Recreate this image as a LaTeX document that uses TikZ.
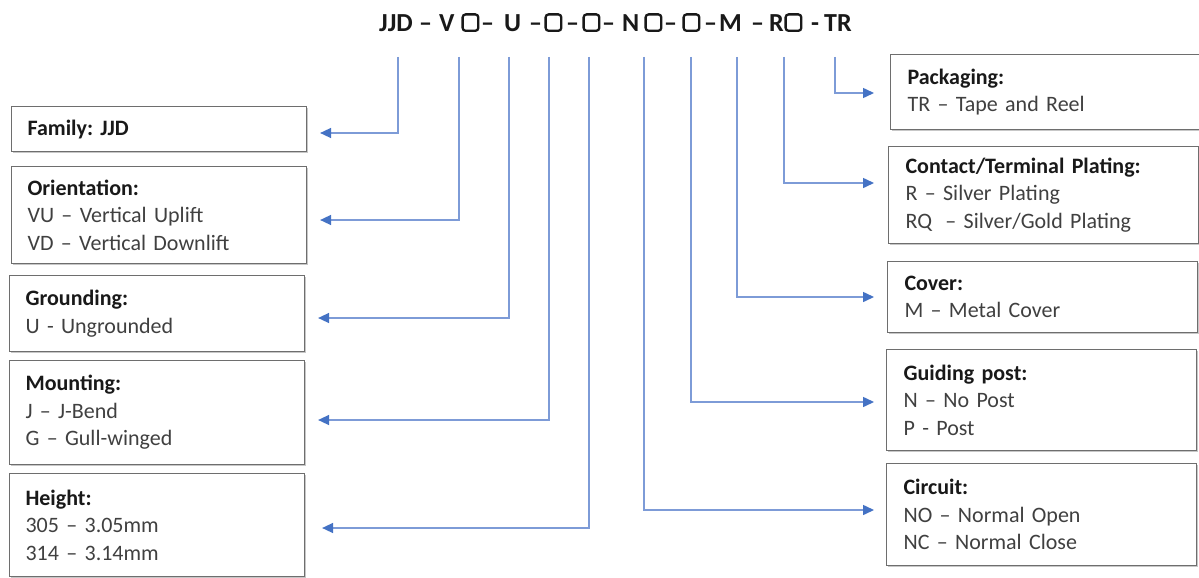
\documentclass[tikz,border=0pt]{standalone}
\usepackage{fontspec}
\setmainfont{Carlito}
\usetikzlibrary{arrows.meta,shadows}
\frenchspacing
\definecolor{linecol}{RGB}{125,155,215}
\definecolor{arrowcol}{RGB}{68,114,196}
\definecolor{boxgray}{RGB}{110,110,110}
\definecolor{txtgray}{RGB}{64,64,64}
\definecolor{headcol}{RGB}{25,25,25}
\newcommand\sqmark{\tikz[baseline=0pt,x=1pt,y=1pt]{\path (0,0) (18.5,0);\draw[line width=2.3pt,rounded corners=3pt,headcol] (1.4,1.2) rectangle (17.1,17.6);}}
\newcommand\tp[2]{\makebox[#1pt][l]{#2}}
\newcommand\hd[1]{{\bfseries\color{headcol}#1}}
\tikzset{
  infobox/.style={draw=boxgray,line width=1.1pt,fill=white,rectangle,anchor=north west,
    align=left,inner ysep=0pt,text=txtgray,
    font=\fontsize{22}{27.5}\selectfont,
    drop shadow={shadow xshift=1.5pt,shadow yshift=-1.5pt,fill=black,opacity=0.22}},
  lbox/.style={infobox,inner xsep=16pt,text width=263pt},
  rbox/.style={infobox,inner xsep=17pt,text width=276pt},
  conn/.style={draw=linecol,line width=1.5pt,-{Triangle[length=11pt,width=10pt,color=arrowcol]},shorten >=13pt}
}
\begin{document}
\begin{tikzpicture}[x=1pt,y=-1pt]
\useasboundingbox (0,0) rectangle (1199,578);
\fill[white] (0,0) rectangle (1199,578);
% title
\node[anchor=base west,inner sep=0pt,font=\fontsize{26}{30}\selectfont\bfseries,text=headcol] (title) at (379,32)
  {\tp{40}{JJD}\tp{20}{--}\tp{22}{V}\tp{20}{\sqmark}\tp{23}{--}\tp{25}{U}\tp{15}{--}\tp{22}{\sqmark}\tp{16}{--}\tp{20}{\sqmark}\tp{20}{--}\tp{22}{N}\tp{20}{\sqmark}\tp{18}{--}\tp{22}{\sqmark}\tp{15}{--}\tp{32}{M}\tp{18}{--}\tp{15}{R}\tp{27}{\sqmark}\tp{13}{-}\tp{28}{TR}};
% left boxes
\node[lbox,minimum height=45pt] (fam) at (11,106) {\hd{Family: JJD}};
\node[lbox,minimum height=97pt] (ori) at (11,166) {\hd{Orientation:}\\VU -- Vertical Uplift\\VD -- Vertical Downlift};
\node[lbox,minimum height=76pt] (gro) at (9,275) {\hd{Grounding:}\\U - Ungrounded};
\node[lbox,minimum height=104pt] (mou) at (9,360) {\hd{Mounting:}\\J -- J-Bend\\G -- Gull-winged};
\node[lbox,minimum height=103pt] (hei) at (9,473) {\hd{Height:}\\305 -- 3.05mm\\314 -- 3.14mm};
% right boxes
\node[rbox,minimum height=75pt] (pac) at (890,54) {\hd{Packaging:}\\TR -- Tape and Reel};
\node[rbox,minimum height=97pt] (con) at (888,146) {\hd{Contact/Terminal Plating:}\\R -- Silver Plating\\RQ\hspace{6pt} -- Silver/Gold Plating};
\node[rbox,minimum height=71pt] (cov) at (887,261) {\hd{Cover:}\\M -- Metal Cover};
\node[rbox,minimum height=101pt] (gui) at (886,349) {\hd{Guiding post:}\\N -- No Post\\P - Post};
\node[rbox,minimum height=102pt] (cir) at (886,463) {\hd{Circuit:}\\NO -- Normal Open\\NC -- Normal Close};
% connector tops
\coordinate (t1) at (398,57);
\coordinate (t2) at (459,57);
\coordinate (t3) at (509,57);
\coordinate (t4) at (549,57);
\coordinate (t5) at (589,57);
\coordinate (t6) at (644,57);
\coordinate (t7) at (691,57);
\coordinate (t8) at (737,57);
\coordinate (t9) at (784,57);
\coordinate (t10) at (835,57);
% connectors
\draw[conn] (t1) |- (fam.east |- 0,133);
\draw[conn] (t2) |- (ori.east |- 0,220);
\draw[conn] (t3) |- (gro.east |- 0,318);
\draw[conn] (t4) |- (mou.east |- 0,420);
\draw[conn,shorten >=17pt] (t5) |- (hei.east |- 0,528);
\draw[conn,shorten >=12pt] (t6) |- (cir.west |- 0,510);
\draw[conn,shorten >=12pt] (t7) |- (gui.west |- 0,402);
\draw[conn] (t8) |- (cov.west |- 0,297);
\draw[conn,shorten >=14pt] (t9) |- (con.west |- 0,183);
\draw[conn,shorten >=16pt] (t10) |- (pac.west |- 0,93);
\end{tikzpicture}
\end{document}
